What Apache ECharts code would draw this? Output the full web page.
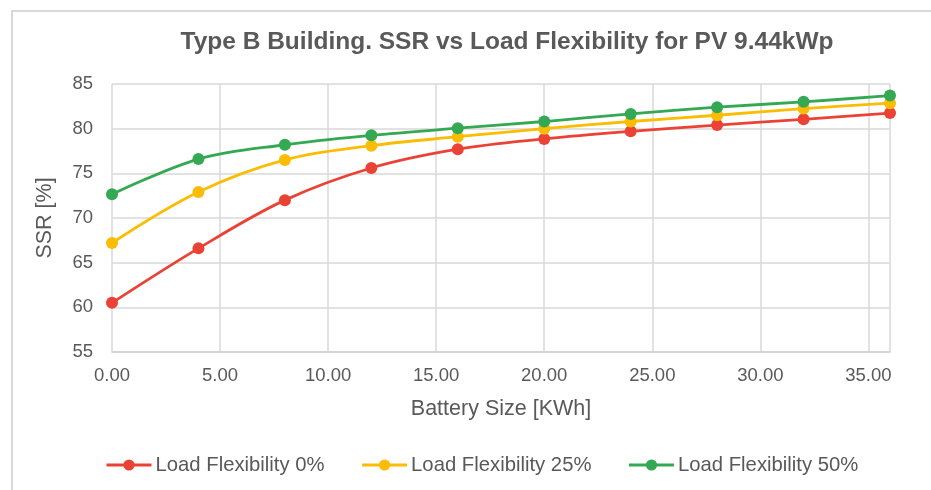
<!DOCTYPE html>
<html><head><meta charset="utf-8">
<script src="https://cdn.jsdelivr.net/npm/echarts@6/dist/echarts.min.js"></script>
<style>html,body{margin:0;padding:0;background:#fff}#c{width:931px;height:490px}</style>
</head><body><div id="c"></div>
<script>
const batterySize = [0, 4, 8, 12, 16, 20, 24, 28, 32, 36];
const flex0 = [60.5, 66.6, 72.0, 75.6, 77.7, 78.85, 79.7, 80.4, 81.05, 81.75];
const flex25 = [67.2, 72.9, 76.5, 78.1, 79.1, 80.0, 80.8, 81.5, 82.25, 82.85];
const flex50 = [72.65, 76.6, 78.2, 79.25, 80.05, 80.8, 81.65, 82.4, 83.0, 83.7];
const seriesNames = ['Load Flexibility 0%', 'Load Flexibility 25%', 'Load Flexibility 50%'];
const colors = ['#EA4335', '#FBBC04', '#34A853'];

const chart = echarts.init(document.getElementById('c'));
const font = 'Liberation Sans, Arial, sans-serif';
function mk(name, vals, color) {
  return {
    name: name, type: 'line', smooth: 0.35,
    data: batterySize.map((x, i) => [x, vals[i]]),
    symbol: 'circle', symbolSize: 12,
    lineStyle: {width: 2.8, color: color},
    itemStyle: {color: color},
    z: 3
  };
}
chart.setOption({
  animation: false,
  textStyle: {fontFamily: font},
  graphic: [{type: 'rect', shape: {x: 12, y: 11, width: 1000, height: 600},
    style: {fill: 'none', stroke: '#d9d9d9', lineWidth: 2}, silent: true}],
  title: {text: 'Type B Building. SSR vs Load Flexibility for PV 9.44kWp',
    left: 502, top: 25, textAlign: 'center',
    textStyle: {fontFamily: font, fontWeight: 'bold', fontSize: 24.5, color: '#595959'}},
  grid: {left: 112, right: 41, top: 84, bottom: 138},
  legend: {top: 450, left: 100, itemWidth: 45, itemHeight: 14, itemGap: 36,
    textStyle: {fontFamily: font, fontSize: 20.3, color: '#595959', padding: [0,0,0,-1]},
    lineStyle: {width: 3},
    data: seriesNames},
  xAxis: {type: 'value', min: 0, max: 36, interval: 5,
    name: 'Battery Size [KWh]', nameLocation: 'middle', nameGap: 46,
    nameTextStyle: {fontSize: 21.5, color: '#595959'},
    axisLine: {show: true, lineStyle: {color: '#d0d0d0', width: 1.5}},
    axisTick: {show: false},
    axisLabel: {fontSize: 18.5, color: '#595959', margin: 14, formatter: v => v.toFixed(2),
      showMaxLabel: false},
    splitLine: {show: true, lineStyle: {color: '#d9d9d9', width: 1.5}}},
  yAxis: {type: 'value', min: 55, max: 85, interval: 5,
    name: 'SSR [%]', nameLocation: 'middle', nameGap: 56,
    nameTextStyle: {fontSize: 21.5, color: '#595959'},
    axisLine: {show: false}, axisTick: {show: false},
    axisLabel: {fontSize: 18.5, color: '#595959', margin: 19},
    splitLine: {show: true, lineStyle: {color: '#d9d9d9', width: 1.5}}},
  series: [mk(seriesNames[0], flex0, colors[0]), mk(seriesNames[1], flex25, colors[1]), mk(seriesNames[2], flex50, colors[2])]
});
</script></body></html>
